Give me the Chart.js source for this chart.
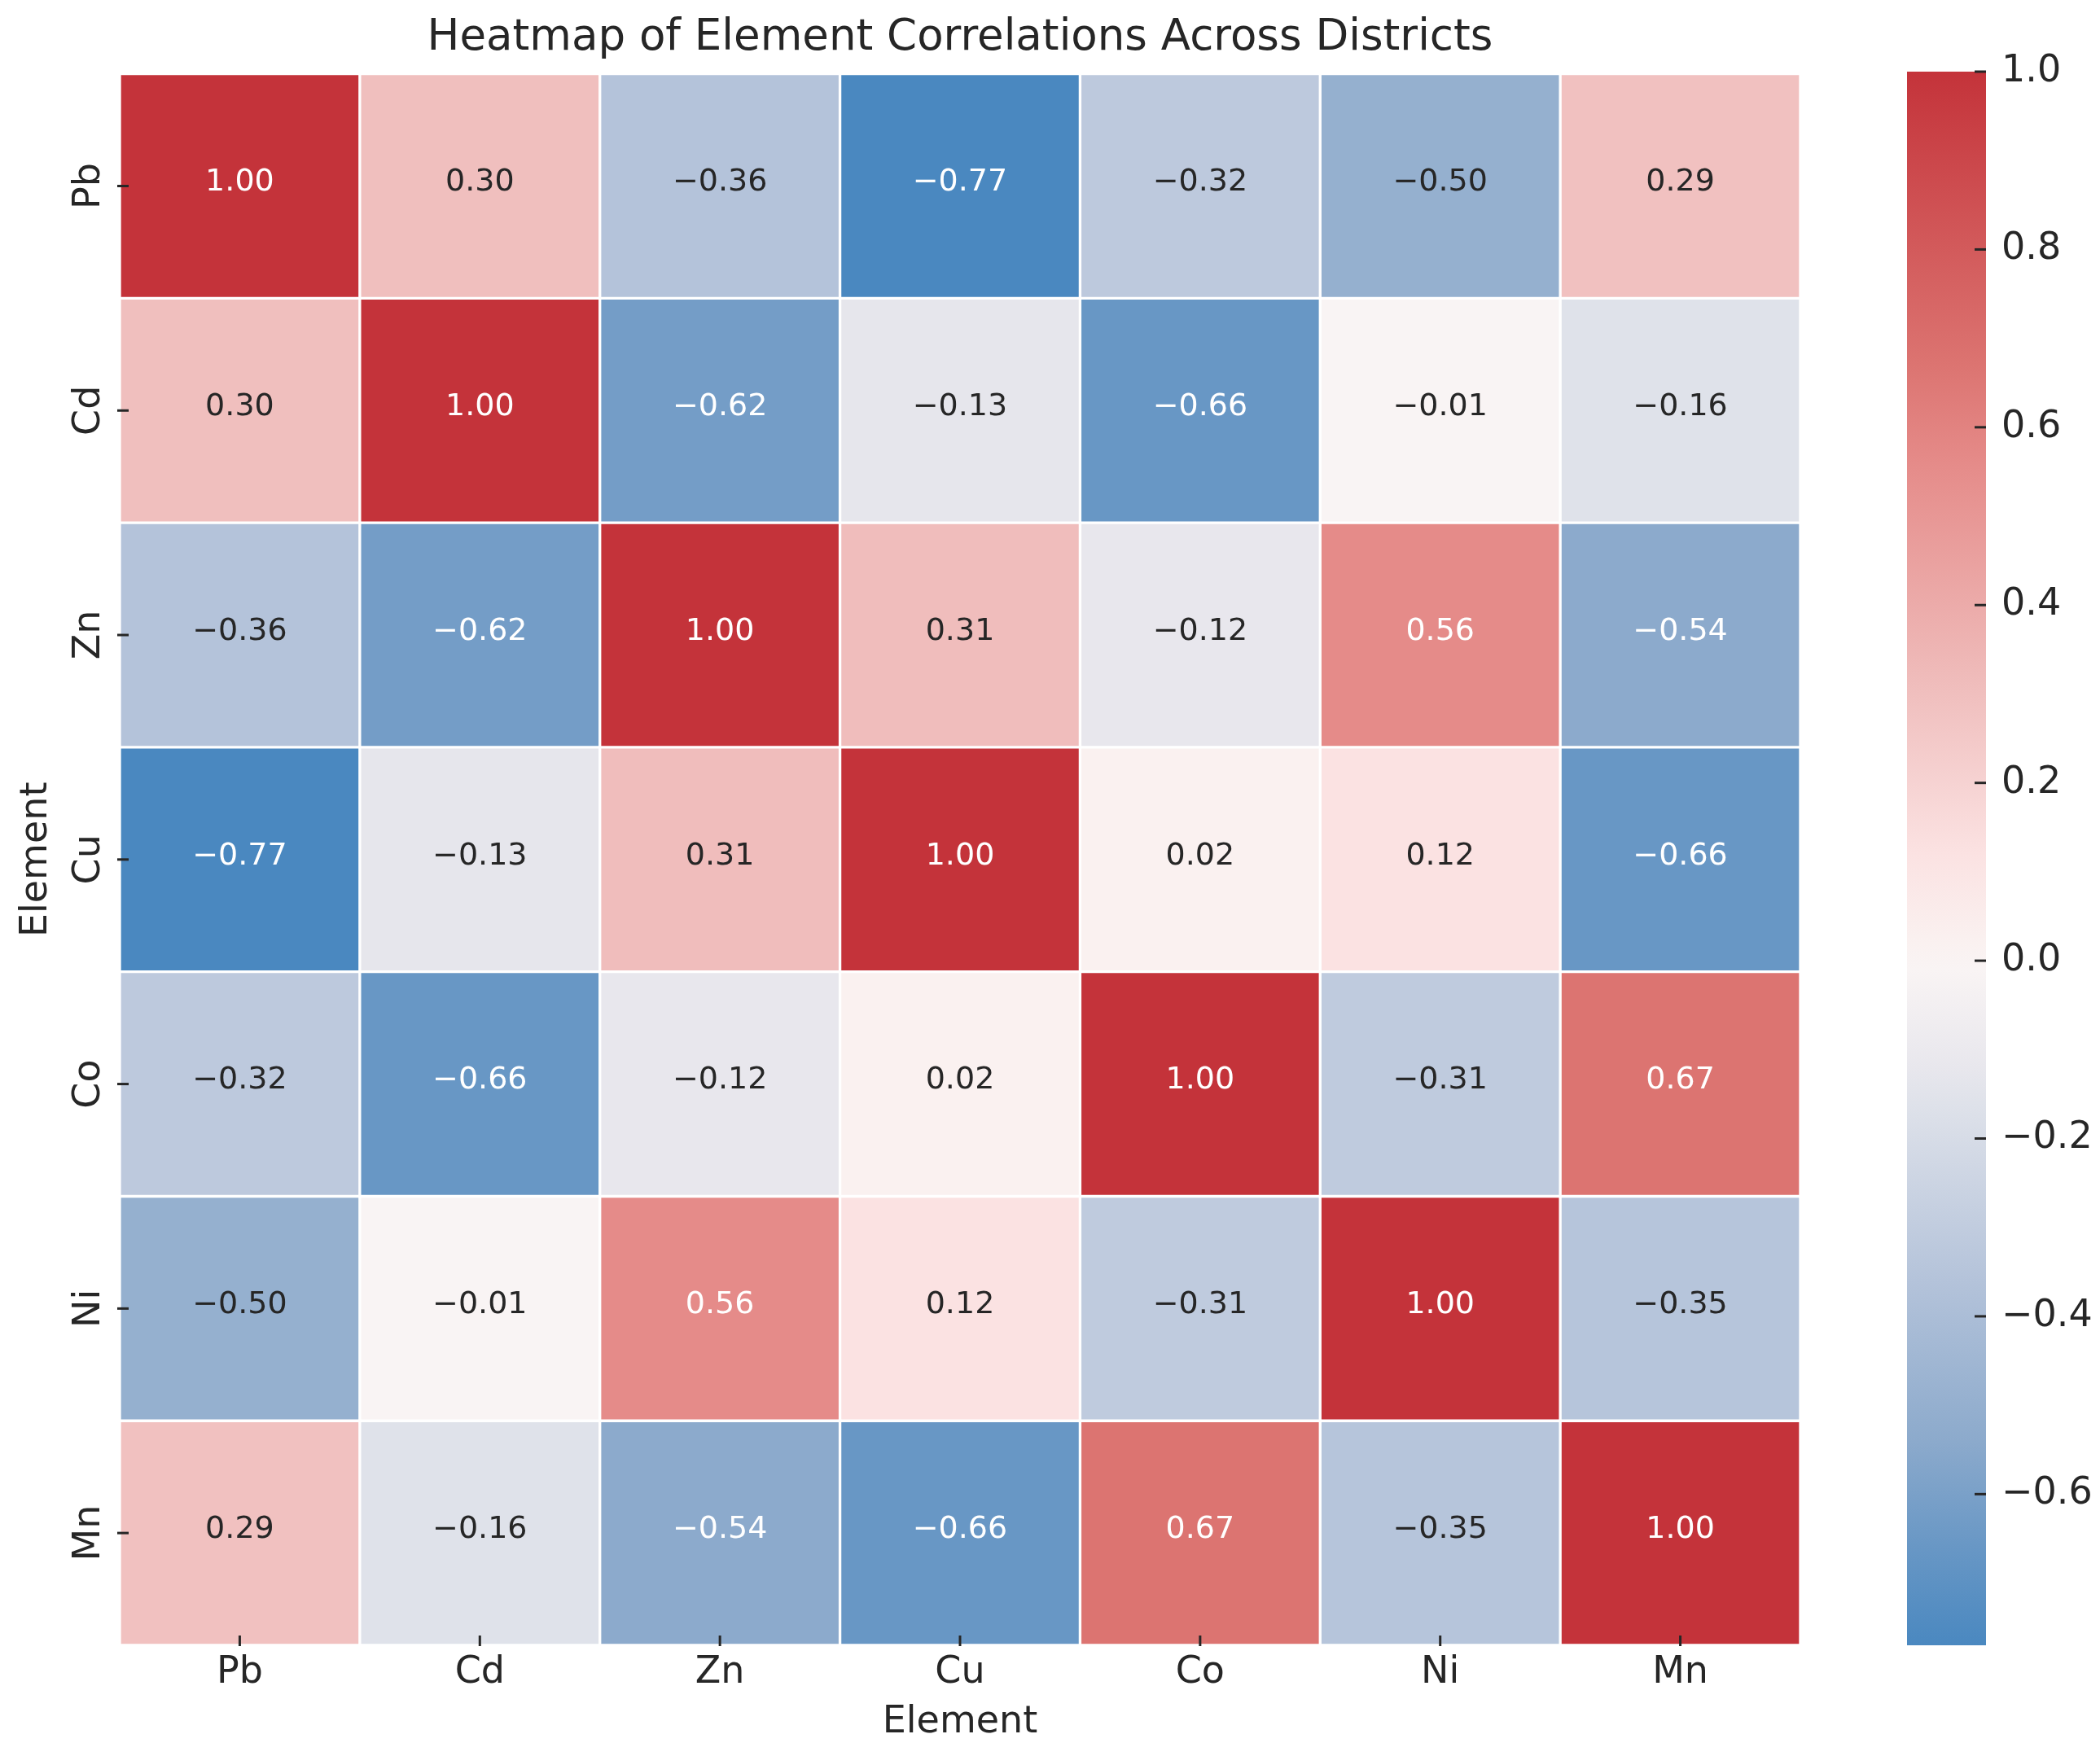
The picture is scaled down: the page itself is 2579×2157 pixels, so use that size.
<!DOCTYPE html>
<html>
<head>
<meta charset="utf-8">
<script src="https://cdn.jsdelivr.net/npm/chart.js@4.4.1/dist/chart.umd.min.js"></script>
<style>
html, body { margin: 0; padding: 0; background: #ffffff; }
#wrap { position: relative; width: 2579px; height: 2157px; }
#wrap canvas { position: absolute; left: 0; top: 0; width: 2579px; height: 2157px; }
</style>
</head>
<body>
<div id="wrap">
  <canvas id="heat" width="2579" height="2157"></canvas>
  <canvas id="cbar" width="2579" height="2157"></canvas>
</div>
<script>
// ---------------- data ----------------
const elements = ['Pb', 'Cd', 'Zn', 'Cu', 'Co', 'Ni', 'Mn'];
const rowPb = [1.00, 0.30, -0.36, -0.77, -0.32, -0.50, 0.29];
const rowCd = [0.30, 1.00, -0.62, -0.13, -0.66, -0.01, -0.16];
const rowZn = [-0.36, -0.62, 1.00, 0.31, -0.12, 0.56, -0.54];
const rowCu = [-0.77, -0.13, 0.31, 1.00, 0.02, 0.12, -0.66];
const rowCo = [-0.32, -0.66, -0.12, 0.02, 1.00, -0.31, 0.67];
const rowNi = [-0.50, -0.01, 0.56, 0.12, -0.31, 1.00, -0.35];
const rowMn = [0.29, -0.16, -0.54, -0.66, 0.67, -0.35, 1.00];
const matrix = [rowPb, rowCd, rowZn, rowCu, rowCo, rowNi, rowMn];
const cbTicks = [-0.6, -0.4, -0.2, 0.0, 0.2, 0.4, 0.6, 0.8, 1.0];
const cbMin = -0.77;
const cbMax = 1.0;
const titleText = 'Heatmap of Element Correlations Across Districts';
const xTitle = 'Element';
const yTitle = 'Element';

// ---------------- style ----------------
const FONT = "'DejaVu Sans', 'Liberation Sans', sans-serif";
const TXT = '#262626';
// colormap stops (value -> colour), style only
const cmapStops = [
  [-0.77, [74, 136, 192]],
  [-0.66, [104, 151, 197]],
  [-0.54, [140, 170, 204]],
  [-0.36, [180, 195, 218]],
  [-0.16, [223, 226, 234]],
  [-0.12, [232, 231, 237]],
  [-0.01, [249, 244, 244]],
  [0.02, [250, 241, 240]],
  [0.12, [251, 226, 226]],
  [0.30, [240, 191, 190]],
  [0.56, [229, 139, 137]],
  [0.67, [220, 116, 113]],
  [1.00, [196, 51, 58]]
];

function rgbFor(v) {
  if (v <= cmapStops[0][0]) return cmapStops[0][1].slice();
  for (let i = 1; i < cmapStops.length; i++) {
    const v1 = cmapStops[i][0], c1 = cmapStops[i][1];
    const v0 = cmapStops[i - 1][0], c0 = cmapStops[i - 1][1];
    if (v <= v1) {
      const t = (v - v0) / (v1 - v0);
      return [0, 1, 2].map(k => Math.round(c0[k] + (c1[k] - c0[k]) * t));
    }
  }
  return cmapStops[cmapStops.length - 1][1].slice();
}
function cssRgb(c) { return 'rgb(' + c[0] + ',' + c[1] + ',' + c[2] + ')'; }
function luminance(c) {
  const lin = c.map(x => { const s = x / 255; return s <= 0.03928 ? s / 12.92 : Math.pow((s + 0.055) / 1.055, 2.4); });
  return 0.2126 * lin[0] + 0.7152 * lin[1] + 0.0722 * lin[2];
}
function fmt(v, d) {
  const s = Math.abs(v).toFixed(d);
  return (v < 0 && parseFloat(s) !== 0 ? '\u2212' : '') + s;
}

// ---------------- heatmap ----------------
const datasets = elements.map((rowName, r) => ({
  label: rowName,
  data: elements.map((colName, c) => ({ x: colName, y: [r, r + 1], v: matrix[r][c] })),
  backgroundColor: ctx => (ctx.raw ? cssRgb(rgbFor(ctx.raw.v)) : '#fff'),
  borderColor: '#ffffff',
  borderWidth: 2,
  borderSkipped: false,
  grouped: false,
  barPercentage: 1,
  categoryPercentage: 1
}));

const heatPlugin = {
  id: 'heatExtras',
  afterDatasetsDraw(chart) {
    const ctx = chart.ctx;
    const xs = chart.scales.x, ys = chart.scales.y;
    const area = chart.chartArea;
    ctx.save();
    // annotations
    ctx.font = '38px ' + FONT;
    ctx.textAlign = 'center';
    ctx.textBaseline = 'middle';
    chart.data.datasets.forEach((ds, di) => {
      const meta = chart.getDatasetMeta(di);
      meta.data.forEach((el, i) => {
        const v = ds.data[i].v;
        const lum = luminance(rgbFor(v));
        ctx.fillStyle = lum > 0.408 ? TXT : '#ffffff';
        const p = el.getCenterPoint();
        ctx.fillText(fmt(v, 2), p.x, p.y - 4);
      });
    });
    // ticks (drawn inward)
    ctx.strokeStyle = TXT;
    ctx.lineWidth = 3;
    elements.forEach((name, i) => {
      const x = xs.getPixelForValue(i);
      ctx.beginPath(); ctx.moveTo(x, area.bottom + 1); ctx.lineTo(x, area.bottom - 12); ctx.stroke();
      const y = ys.getPixelForValue(i + 0.5);
      ctx.beginPath(); ctx.moveTo(area.left - 3, y); ctx.lineTo(area.left + 11, y); ctx.stroke();
    });
    // y tick labels, rotated
    ctx.fillStyle = TXT;
    ctx.font = '46px ' + FONT;
    ctx.textAlign = 'center';
    ctx.textBaseline = 'alphabetic';
    elements.forEach((name, i) => {
      const y = ys.getPixelForValue(i + 0.5);
      ctx.save();
      ctx.translate(area.left - 25, y);
      ctx.rotate(-Math.PI / 2);
      ctx.fillText(name, 0, 0);
      ctx.restore();
    });
    ctx.restore();
  }
};

new Chart(document.getElementById('heat'), {
  type: 'bar',
  data: { labels: elements, datasets },
  options: {
    responsive: false,
    animation: false,
    devicePixelRatio: 1,
    layout: { padding: { left: 0, top: 0, right: 368, bottom: 0 } },
    plugins: {
      legend: { display: false },
      tooltip: { enabled: false },
      title: {
        display: true,
        text: titleText,
        fullSize: false,
        color: TXT,
        font: { family: FONT, size: 53, weight: 'normal', lineHeight: 1.2 },
        padding: { top: 15, bottom: 12 }
      }
    },
    scales: {
      x: {
        type: 'category',
        position: 'bottom',
        grid: { display: false, drawTicks: false },
        border: { display: false },
        ticks: { color: TXT, font: { family: FONT, size: 46 }, padding: 6, maxRotation: 0, minRotation: 0 },
        title: { display: true, text: xTitle, color: TXT, font: { family: FONT, size: 46, lineHeight: 1.2 }, padding: { top: 0, bottom: 13 } },
        afterFit: s => { s.height = 136; }
      },
      y: {
        type: 'linear',
        position: 'left',
        min: 0,
        max: elements.length,
        reverse: true,
        grid: { display: false, drawTicks: false },
        border: { display: false },
        ticks: { display: false },
        title: { display: true, text: yTitle, color: TXT, font: { family: FONT, size: 46, lineHeight: 1.2 }, padding: { top: 17, bottom: 0 } },
        afterFit: s => { s.width = 147; }
      }
    }
  },
  plugins: [heatPlugin]
});

// ---------------- colour bar ----------------
function cbGradient(chart) {
  const area = chart.chartArea;
  if (!area) return null;
  const ys = chart.scales.y;
  const y0 = ys.getPixelForValue(cbMin), y1 = ys.getPixelForValue(cbMax);
  const g = chart.ctx.createLinearGradient(0, y0, 0, y1);
  cmapStops.forEach(([v, c]) => {
    const t = (v - cbMin) / (cbMax - cbMin);
    g.addColorStop(Math.min(1, Math.max(0, t)), cssRgb(c));
  });
  return g;
}

const cbPlugin = {
  id: 'cbTicks',
  afterDatasetsDraw(chart) {
    const ctx = chart.ctx, ys = chart.scales.y, area = chart.chartArea;
    ctx.save();
    ctx.strokeStyle = TXT;
    ctx.lineWidth = 3;
    cbTicks.forEach(v => {
      const y = ys.getPixelForValue(v);
      ctx.beginPath(); ctx.moveTo(area.right - 14, y); ctx.lineTo(area.right, y); ctx.stroke();
    });
    ctx.restore();
  }
};

new Chart(document.getElementById('cbar'), {
  type: 'bar',
  data: {
    labels: [''],
    datasets: [{
      data: [[cbMin, cbMax]],
      backgroundColor: ctx => cbGradient(ctx.chart),
      borderWidth: 0,
      borderSkipped: false,
      barPercentage: 1,
      categoryPercentage: 1
    }]
  },
  options: {
    responsive: false,
    animation: false,
    devicePixelRatio: 1,
    layout: { padding: { left: 2342, top: 88, right: 0, bottom: 136 } },
    plugins: { legend: { display: false }, tooltip: { enabled: false }, title: { display: false } },
    scales: {
      x: { display: false },
      y: {
        type: 'linear',
        position: 'right',
        min: cbMin,
        max: cbMax,
        afterBuildTicks: s => { s.ticks = cbTicks.map(v => ({ value: v })); },
        afterFit: s => { s.width = 140; },
        grid: { display: false, drawTicks: false },
        border: { display: false },
        ticks: { color: TXT, font: { family: FONT, size: 46 }, padding: 19, callback: v => fmt(v, 1) }
      }
    }
  },
  plugins: [cbPlugin]
});
</script>
</body>
</html>
